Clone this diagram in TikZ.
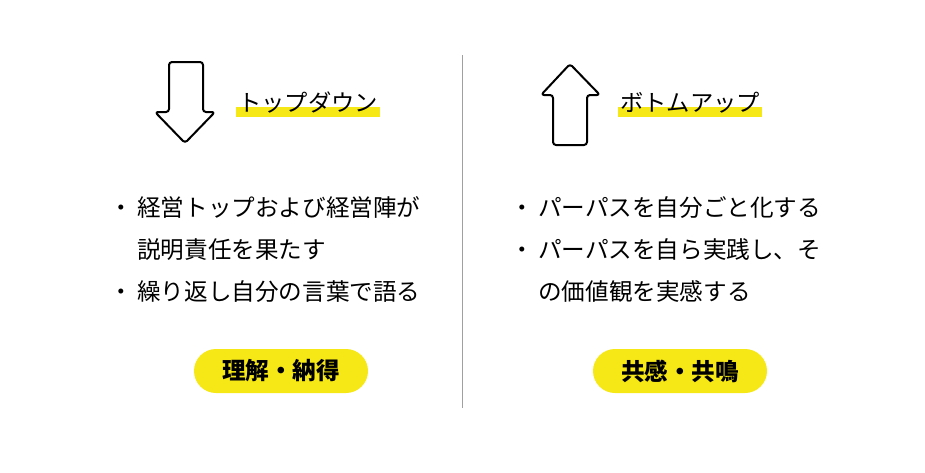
\documentclass[tikz,border=0pt]{standalone}
\usepackage{fontspec}
\setmainfont{Noto Sans CJK JP}
\usepackage{tikz}
\definecolor{marker}{RGB}{246,231,22}
\definecolor{rule}{RGB}{160,160,160}

\begin{document}
\begin{tikzpicture}[x=1pt,y=-1pt,
    arrowshape/.style={draw=black,line width=2pt,rounded corners=3pt,line join=round},
    itemtext/.style={anchor=west,inner sep=0pt,text height=0.88em,text depth=0.12em,
      font=\fontsize{23.6}{24}\selectfont},
    title/.style={anchor=west,inner sep=0pt,text height=0.88em,text depth=0.12em,
      font=\fontsize{23.3}{24}\selectfont},
    pill/.style={fill=marker,rounded corners=22pt,minimum width=174pt,minimum height=44pt,
      inner sep=0pt,font=\fontsize{23.6}{24}\selectfont\bfseries}]
    \useasboundingbox (0,0) rectangle (925,472);
    % divider
    \draw[rule,line width=1pt] (462,55) -- (462,408);
    % top-down arrow
    \draw[arrowshape] (169,62) -- (203,62) -- (203,112) -- (215,112) -- (185,143)
        -- (155,112) -- (169,112) -- cycle;
    \fill[marker] (236,107) rectangle (380,117);
    \node[title] (topdown) at (238,108) {トップダウン};
    % bottom-up arrow
    \draw[arrowshape] (570,64) -- (600,95) -- (587,95) -- (587,145) -- (553,145)
        -- (553,95) -- (541,95) -- cycle;
    \fill[marker] (618,107) rectangle (762,117);
    \node[title] (bottomup) at (620,108) {ボトムアップ};
    % left items
    \node[itemtext] (ldot1) at (109,213) {・};
    \node[itemtext] (litem1) at (137,213) {経営トップおよび経営陣が};
    \node[itemtext] (litem2) at (137,255) {説明責任を果たす};
    \node[itemtext] (ldot3) at (109,297) {・};
    \node[itemtext] (litem3) at (137,297) {繰り返し自分の言葉で語る};
    % right items
    \node[itemtext] (rdot1) at (510,213) {・};
    \node[itemtext] (ritem1) at (538,213) {パーパスを自分ごと化する};
    \node[itemtext] (rdot2) at (510,255) {・};
    \node[itemtext] (ritem2) at (538,255) {パーパスを自ら実践し、そ};
    \node[itemtext] (ritem3) at (538,297) {の価値観を実感する};
    % result pills
    \node[pill] (understand) at (281,371) {理解・納得};
    \node[pill] (empathy) at (680,371) {共感・共鳴};
\end{tikzpicture}
\end{document}
